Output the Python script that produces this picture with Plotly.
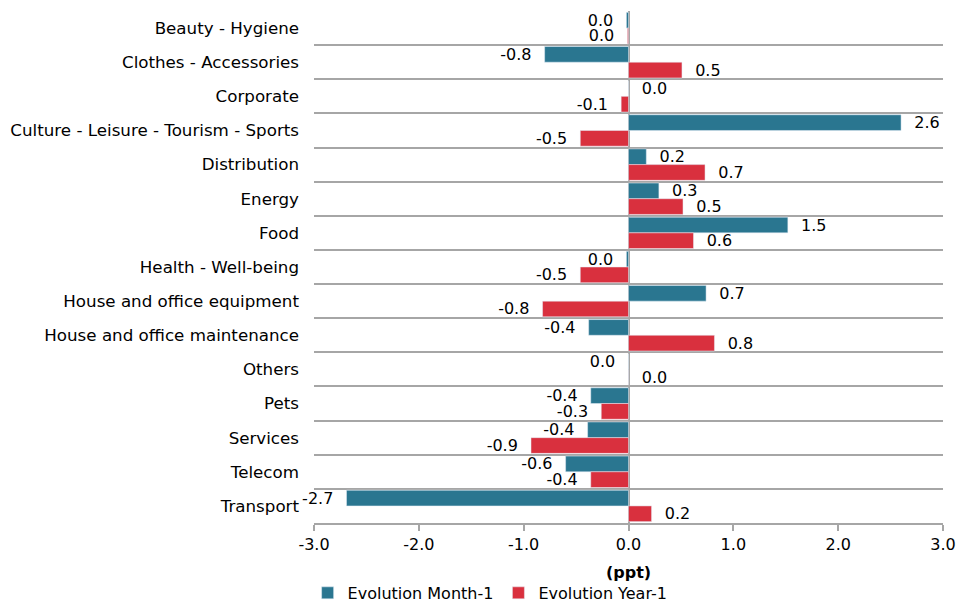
import plotly.graph_objects as go

categories = [
    "Beauty - Hygiene", "Clothes - Accessories", "Corporate",
    "Culture - Leisure - Tourism - Sports", "Distribution", "Energy", "Food",
    "Health - Well-being", "House and office equipment",
    "House and office maintenance", "Others", "Pets", "Services", "Telecom",
    "Transport",
]
month_1 = [-0.02, -0.80, 0.001, 2.60, 0.17, 0.29, 1.52, -0.02, 0.74, -0.38,
           -0.001, -0.36, -0.39, -0.60, -2.69]
year_1 = [-0.01, 0.51, -0.07, -0.46, 0.73, 0.52, 0.62, -0.46, -0.82, 0.82,
          0.001, -0.26, -0.93, -0.36, 0.22]
x_ticks = [-3.0, -2.0, -1.0, 0.0, 1.0, 2.0, 3.0]
x_title = "(ppt)"

PAD = "\u00a0\u00a0"


def fmt(v):
    s = f"{v:.1f}"
    if s == "-0.0":
        s = "0.0"
    return s + PAD if v < 0 else PAD + s


FONT = "DejaVu Sans, Verdana, sans-serif"
FS = 16
TEAL = "#2A7690"
RED = "#D9303E"
GRID = "#A6A6A6"

fig = go.Figure()
fig.add_trace(go.Bar(
    y=categories, x=month_1, orientation="h", name="Evolution Month-1",
    marker=dict(color=TEAL), text=[fmt(v) for v in month_1],
    textposition="outside", cliponaxis=False,
    textfont=dict(family=FONT, size=FS, color="#000000"),
))
fig.add_trace(go.Bar(
    y=categories, x=year_1, orientation="h", name="Evolution Year-1",
    marker=dict(color=RED), text=[fmt(v) for v in year_1],
    textposition="outside", cliponaxis=False,
    textfont=dict(family=FONT, size=FS, color="#000000"),
))

fig.add_annotation(
    text=f"<b>{x_title}</b>", xref="x", x=0, yref="paper", y=0,
    yanchor="middle", yshift=-49, showarrow=False,
    font=dict(family=FONT, size=FS, color="#000000"),
)

fig.update_layout(
    width=957, height=603,
    margin=dict(l=314, r=14, t=11, b=80, autoexpand=False),
    barmode="group", bargap=0.08, bargroupgap=0,
    plot_bgcolor="white", paper_bgcolor="white",
    font=dict(family=FONT, size=FS, color="#000000"),
    showlegend=True,
    legend=dict(orientation="h", x=0.28, xanchor="center",
                y=-0.1366, yanchor="middle", font=dict(size=FS),
                itemwidth=30, traceorder="normal", tracegroupgap=0,
                bgcolor="rgba(0,0,0,0)"),
    uniformtext=dict(minsize=FS, mode="show"),
)
fig.update_xaxes(
    range=[-3, 3], tickvals=x_ticks, ticktext=[f"{t:.1f}" for t in x_ticks],
    showgrid=False, zeroline=True, zerolinecolor=GRID, zerolinewidth=2,
    showline=True, linecolor=GRID, linewidth=2,
    ticks="outside", ticklen=6, tickcolor=GRID, tickwidth=2,
    tickfont=dict(size=FS), automargin=False,
)
fig.update_yaxes(
    autorange="reversed", type="category", tickson="boundaries",
    showgrid=True, gridcolor=GRID, gridwidth=2,
    ticks="", ticklabelstandoff=14, automargin=False,
    tickfont=dict(size=16.7), showline=False,
)

fig.write_html("out.html", config={"displayModeBar": False},
               post_script="document.body.style.margin='0';")
